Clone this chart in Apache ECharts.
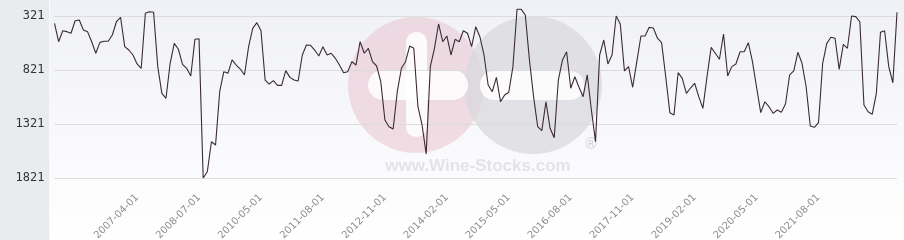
<!DOCTYPE html>
<html>
<head>
<meta charset="utf-8">
<script src="https://cdn.jsdelivr.net/npm/echarts@6/dist/echarts.min.js"></script>
<style>html,body{margin:0;padding:0;background:#e8ecee;}#c{width:904px;height:240px;}</style>
</head>
<body>
<div id="c"></div>
<script>
const dates = [
'2005-08-01','2005-09-01','2005-10-01','2005-11-01','2005-12-01',
'2006-01-01','2006-02-01','2006-03-01','2006-04-01','2006-05-01','2006-06-01','2006-07-01','2006-08-01','2006-09-01','2006-10-01','2006-11-01','2006-12-01',
'2007-01-01','2007-02-01','2007-03-01','2007-04-01','2007-05-01','2007-06-01','2007-07-01','2007-08-01','2007-09-01','2007-10-01','2007-11-01','2007-12-01',
'2008-01-01','2008-02-01','2008-03-01','2008-04-01','2008-05-01','2008-06-01','2008-07-01','2008-08-01','2008-09-01','2008-10-01','2008-11-01','2008-12-01',
'2009-08-01','2009-09-01','2009-10-01','2009-11-01','2009-12-01',
'2010-01-01','2010-02-01','2010-03-01','2010-04-01','2010-05-01','2010-06-01','2010-07-01','2010-08-01','2010-09-01','2010-10-01','2010-11-01','2010-12-01',
'2011-01-01','2011-02-01','2011-03-01','2011-04-01','2011-05-01','2011-06-01','2011-07-01','2011-08-01','2011-09-01','2011-10-01','2011-11-01','2011-12-01',
'2012-01-01','2012-02-01','2012-03-01','2012-04-01','2012-05-01','2012-06-01','2012-07-01','2012-08-01','2012-09-01','2012-10-01','2012-11-01','2012-12-01',
'2013-01-01','2013-02-01','2013-03-01','2013-04-01','2013-05-01','2013-06-01','2013-07-01','2013-08-01','2013-09-01','2013-10-01','2013-11-01','2013-12-01',
'2014-01-01','2014-02-01','2014-03-01','2014-04-01','2014-05-01','2014-06-01','2014-07-01','2014-08-01','2014-09-01','2014-10-01','2014-11-01','2014-12-01',
'2015-01-01','2015-02-01','2015-03-01','2015-04-01','2015-05-01','2015-06-01','2015-07-01','2015-08-01','2015-09-01','2015-10-01','2015-11-01','2015-12-01',
'2016-01-01','2016-02-01','2016-03-01','2016-04-01','2016-05-01','2016-06-01','2016-07-01','2016-08-01','2016-09-01','2016-10-01','2016-11-01','2016-12-01',
'2017-01-01','2017-02-01','2017-03-01','2017-04-01','2017-05-01','2017-06-01','2017-07-01','2017-08-01','2017-09-01','2017-10-01','2017-11-01','2017-12-01',
'2018-01-01','2018-02-01','2018-03-01','2018-04-01','2018-05-01','2018-06-01','2018-07-01','2018-08-01','2018-09-01','2018-10-01','2018-11-01','2018-12-01',
'2019-01-01','2019-02-01','2019-03-01','2019-04-01','2019-05-01','2019-06-01','2019-07-01','2019-08-01','2019-09-01','2019-10-01','2019-11-01','2019-12-01',
'2020-01-01','2020-02-01','2020-03-01','2020-04-01','2020-05-01','2020-06-01','2020-07-01','2020-08-01','2020-09-01','2020-10-01','2020-11-01','2020-12-01',
'2021-01-01','2021-02-01','2021-03-01','2021-04-01','2021-05-01','2021-06-01','2021-07-01','2021-08-01','2021-09-01','2021-10-01','2021-11-01','2021-12-01',
'2022-01-01','2022-02-01','2022-03-01','2022-04-01','2022-05-01','2022-06-01','2022-07-01','2022-08-01','2022-09-01','2022-10-01','2022-11-01','2022-12-01',
'2023-01-01','2023-02-01','2023-03-01'
];

const rank = [
389,559,457,466,481,365,358,451,466,559,
666,565,555,555,497,374,333,605,636,682,
765,805,296,281,287,790,1037,1083,759,574,
629,768,805,877,537,531,1821,1763,1485,1515,
1022,837,852,728,775,812,867,605,435,383,
457,914,951,920,963,963,827,889,914,923,
682,590,592,636,691,605,682,666,713,775,
846,837,744,775,559,666,620,744,784,929,
1284,1346,1367,1022,805,744,599,620,1161,1330,
1599,790,620,395,559,506,682,537,559,457,
481,605,420,513,682,960,1022,889,1115,1052,
1027,790,259,259,312,728,1068,1346,1383,1115,
1361,1448,914,728,652,990,883,981,1068,867,
1191,1485,682,543,765,682,321,395,830,790,
981,744,506,506,426,432,527,568,883,1216,
1238,846,898,1037,988,944,1068,1176,883,611,
666,722,488,877,790,765,652,652,568,744,
981,1216,1115,1161,1222,1191,1213,1136,867,830,
657,759,976,1340,1352,1309,759,574,518,527,
815,583,620,321,327,374,1145,1207,1231,1037,
472,457,790,939,287
];

const yTicks = [321, 821, 1321, 1821];
const shownLabels = ['2007-04-01','2008-07-01','2010-05-01','2011-08-01','2012-11-01','2014-02-01',
  '2015-05-01','2016-08-01','2017-11-01','2019-02-01','2020-05-01','2021-08-01'];

const chart = echarts.init(document.getElementById('c'), null, {renderer: 'canvas'});
chart.setOption({
  backgroundColor: '#e8ecee',
  animation: false,
  graphic: [
    { type: 'rect', z: -20, silent: true, shape: {x: 49, y: 0, width: 855, height: 240},
      style: { fill: new echarts.graphic.LinearGradient(0, 0, 0, 1, [
        {offset: 0, color: '#f0f1f6'}, {offset: 1, color: '#ffffff'}]) } },
    { type: 'line', z: -19, silent: true, shape: {x1: 49.5, y1: 0, x2: 49.5, y2: 240},
      style: { stroke: '#f8f9fa', lineWidth: 1 } },
    { type: 'circle', z: -18, silent: true, shape: {cx: 416, cy: 85, r: 68},
      style: { fill: 'rgba(234,200,210,0.6)' } },
    { type: 'circle', z: -17, silent: true, shape: {cx: 533, cy: 85, r: 69},
      style: { fill: 'rgba(216,216,220,0.72)' } },
    { type: 'rect', z: -16, silent: true, shape: {x: 368, y: 70, width: 100, height: 30, r: 15},
      style: { fill: 'rgba(255,255,255,0.85)' } },
    { type: 'rect', z: -16, silent: true, shape: {x: 406, y: 32, width: 21, height: 105, r: 10},
      style: { fill: 'rgba(255,255,255,0.85)' } },
    { type: 'rect', z: -16, silent: true, shape: {x: 480, y: 71, width: 104, height: 29, r: 14},
      style: { fill: 'rgba(255,255,255,0.85)' } },
    { type: 'text', z: -15, silent: true, x: 478, y: 166,
      style: { text: 'www.Wine-Stocks.com', fill: 'rgba(215,215,218,0.65)',
        font: 'bold 17px "Liberation Sans", Arial, sans-serif', align: 'center', verticalAlign: 'middle' } },
    { type: 'text', z: -15, silent: true, x: 591, y: 145,
      style: { text: '®', fill: 'rgba(205,205,208,0.8)',
        font: '15px "DejaVu Sans", sans-serif', align: 'center', verticalAlign: 'middle' } }
  ],
  grid: { left: 54.5, right: 7, top: 16, bottom: 62, containLabel: false, outerBoundsMode: 'none' },
  xAxis: {
    type: 'category',
    data: dates,
    boundaryGap: false,
    axisLine: { show: false },
    axisTick: { show: false },
    splitLine: { show: false },
    axisLabel: {
      rotate: 45,
      margin: 18,
      color: '#8e8e8e',
      fontSize: 10,
      fontFamily: '"DejaVu Sans", sans-serif',
      interval: function (i, v) { return shownLabels.indexOf(v) >= 0; }
    }
  },
  yAxis: {
    type: 'value',
    inverse: true,
    min: yTicks[0],
    max: yTicks[yTicks.length - 1],
    interval: yTicks[1] - yTicks[0],
    axisLine: { show: false },
    axisTick: { show: false },
    splitLine: { lineStyle: { color: '#dcdcdc', width: 1 } },
    axisLabel: {
      margin: 10,
      color: '#333',
      fontSize: 12,
      fontFamily: '"DejaVu Sans Mono", monospace',
      formatter: function (v) { return String(v); }
    }
  },
  series: [{
    type: 'line',
    data: rank,
    clip: false,
    symbol: 'none',
    lineStyle: { color: '#3b2a36', width: 1.1 }
  }]
});
</script>
</body>
</html>
